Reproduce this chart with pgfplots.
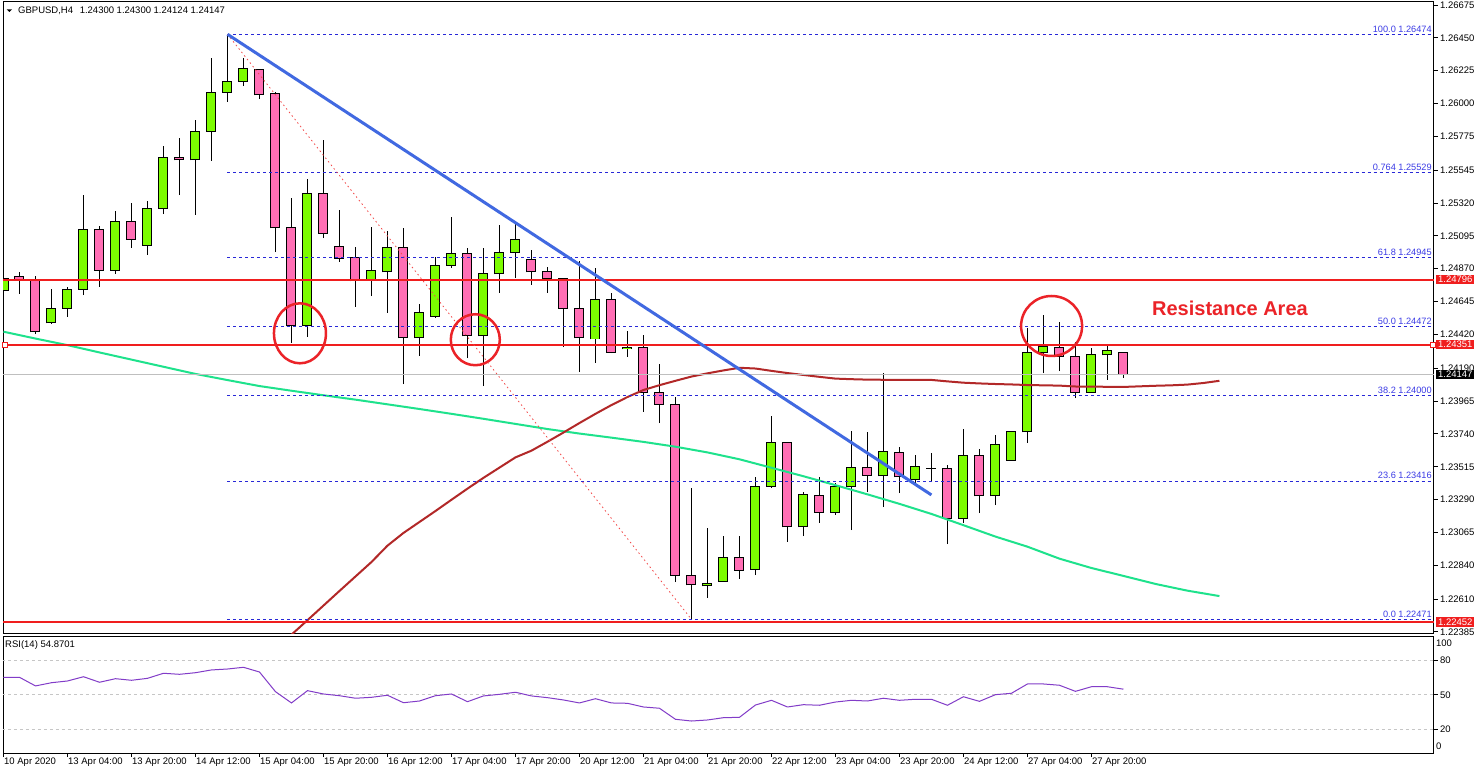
\documentclass[border=0pt]{standalone}
\usepackage{pgfplots}
\pgfplotsset{compat=1.18}
\usepackage{pgfplotstable}
\usepackage{fontspec}
\setmainfont{Liberation Sans}
\newcommand{\tf}{\fontsize{9.5}{11}\selectfont}
\newcommand{\ff}{\fontsize{9.2}{11}\selectfont}
\definecolor{candleup}{RGB}{124,252,0}
\definecolor{candledn}{RGB}{255,110,180}
\definecolor{maA}{RGB}{178,40,40}
\definecolor{maB}{RGB}{30,226,140}
\definecolor{trend}{RGB}{65,105,225}
\definecolor{fib}{RGB}{40,40,215}
\definecolor{fibtxt}{RGB}{60,60,230}
\definecolor{lvl}{RGB}{240,30,30}
\definecolor{rsic}{RGB}{130,60,200}
\definecolor{circ}{RGB}{235,35,40}

\pgfplotstableread{
k o h l c
0 1.24718 1.24868 1.24711 1.24806
3 1.24499 1.24731 1.24492 1.24601
4 1.24601 1.24745 1.24540 1.24731
5 1.24731 1.25374 1.24690 1.25135
7 1.24861 1.25265 1.24834 1.25190
9 1.25032 1.25333 1.24964 1.25285
10 1.25285 1.25710 1.25244 1.25634
12 1.25614 1.25888 1.25238 1.25812
13 1.25812 1.26312 1.25607 1.26079
14 1.26079 1.26474 1.26011 1.26154
15 1.26154 1.26312 1.26120 1.26237
19 1.24478 1.25484 1.24403 1.25388
23 1.24793 1.25155 1.24683 1.24861
24 1.24848 1.25128 1.24567 1.25012
26 1.24396 1.24629 1.24273 1.24567
27 1.24546 1.24950 1.24533 1.24895
28 1.24895 1.25224 1.24875 1.24971
30 1.24410 1.25012 1.24067 1.24834
31 1.24834 1.25169 1.24704 1.24984
32 1.24984 1.25176 1.24806 1.25073
37 1.24389 1.24875 1.24225 1.24656
39 1.24321 1.24444 1.24266 1.24334
44 1.22699 1.23096 1.22617 1.22719
45 1.22733 1.23041 1.22733 1.22891
47 1.22815 1.23445 1.22774 1.23383
48 1.23383 1.23862 1.23370 1.23684
50 1.23103 1.23342 1.23041 1.23328
52 1.23205 1.23404 1.23185 1.23383
53 1.23383 1.23760 1.23082 1.23513
55 1.23452 1.24156 1.23239 1.23616
57 1.23431 1.23595 1.23404 1.23520
58 1.23506 1.23609 1.23417 1.23506
60 1.23164 1.23773 1.23130 1.23595
62 1.23315 1.23732 1.23253 1.23664
63 1.23561 1.23760 1.23561 1.23753
64 1.23753 1.24464 1.23678 1.24300
65 1.24300 1.24553 1.24156 1.24341
68 1.24026 1.24327 1.24026 1.24280
69 1.24280 1.24348 1.24109 1.24307
}\upc

\pgfplotstableread{
k o h l c
1 1.24820 1.24848 1.24697 1.24793
2 1.24793 1.24820 1.24423 1.24437
6 1.25135 1.25162 1.24745 1.24861
8 1.25190 1.25320 1.25012 1.25073
11 1.25628 1.25764 1.25374 1.25614
16 1.26230 1.26230 1.26031 1.26059
17 1.26066 1.26079 1.24984 1.25149
18 1.25149 1.25354 1.24362 1.24478
20 1.25388 1.25751 1.25080 1.25114
21 1.25025 1.25272 1.24916 1.24943
22 1.24950 1.25019 1.24608 1.24786
25 1.25012 1.25149 1.24081 1.24396
29 1.24971 1.25012 1.24259 1.24410
33 1.24930 1.24998 1.24759 1.24848
34 1.24848 1.24882 1.24704 1.24800
35 1.24800 1.24800 1.24334 1.24601
36 1.24601 1.24923 1.24163 1.24396
38 1.24656 1.24704 1.24293 1.24300
40 1.24334 1.24416 1.23890 1.24026
41 1.24026 1.24218 1.23814 1.23944
42 1.23944 1.23992 1.22726 1.22774
43 1.22774 1.23370 1.22471 1.22706
46 1.22891 1.23041 1.22747 1.22808
49 1.23684 1.23684 1.23000 1.23103
51 1.23315 1.23445 1.23130 1.23205
54 1.23513 1.23753 1.23342 1.23458
56 1.23609 1.23650 1.23335 1.23445
59 1.23506 1.23527 1.22986 1.23164
61 1.23595 1.23636 1.23198 1.23315
66 1.24334 1.24505 1.24170 1.24266
67 1.24266 1.24369 1.23985 1.24026
70 1.24300 1.24300 1.24124 1.24147
}\dnc

\pgfplotstableread{
k v
17 1.22268
18 1.22366
19 1.22465
20 1.22565
21 1.22665
22 1.22764
23 1.22863
24 1.22975
25 1.23062
26 1.23137
27 1.23212
28 1.23289
29 1.23365
30 1.23439
31 1.23509
32 1.23579
33 1.23625
34 1.23686
35 1.23749
36 1.23814
37 1.23877
38 1.23937
39 1.23992
40 1.24040
41 1.24073
42 1.24103
43 1.24132
44 1.24154
45 1.24174
46 1.24192
47 1.24187
48 1.24171
49 1.24156
50 1.24143
51 1.24130
52 1.24118
53 1.24114
54 1.24111
55 1.24110
56 1.24109
57 1.24109
58 1.24109
59 1.24099
60 1.24090
61 1.24085
62 1.24081
63 1.24078
64 1.24074
65 1.24072
66 1.24070
67 1.24064
68 1.24063
69 1.24062
70 1.24061
71 1.24065
72 1.24069
73 1.24072
74 1.24077
75 1.24088
76 1.24103
}\maslow

\pgfplotstableread{
k v
0 1.24439
2 1.24392
4 1.24347
6 1.24297
8 1.24248
10 1.24199
12 1.24150
14 1.24108
16 1.24067
18 1.24035
20 1.24004
22 1.23974
24 1.23942
26 1.23910
28 1.23877
30 1.23843
32 1.23808
34 1.23773
36 1.23742
38 1.23714
40 1.23685
42 1.23652
44 1.23613
46 1.23566
48 1.23508
50 1.23450
52 1.23389
54 1.23326
56 1.23261
58 1.23192
60 1.23115
62 1.23037
64 1.22968
66 1.22886
68 1.22822
70 1.22768
72 1.22713
74 1.22667
76 1.22630
}\mafast

\pgfplotstableread{
k v
0 65.2
1 65.2
2 57.7
3 60.5
4 62.0
5 65.7
6 60.9
7 64.0
8 62.6
9 64.3
10 68.7
11 67.8
12 69.2
13 71.6
14 72.4
15 73.9
16 69.8
17 52.7
18 42.9
19 53.6
20 50.7
21 49.2
22 47.0
23 47.8
24 49.6
25 43.1
26 44.6
27 49.2
28 50.7
29 44.0
30 49.0
31 50.4
32 52.2
33 49.0
34 47.5
35 45.5
36 42.9
37 46.6
38 42.9
39 42.6
40 39.4
41 38.3
42 28.7
43 27.2
44 28.1
45 30.1
46 30.4
47 41.1
48 45.2
49 39.4
50 41.4
51 40.9
52 43.7
53 45.2
54 44.6
55 47.0
56 45.2
57 46.1
58 46.1
59 40.9
60 48.3
61 44.3
62 50.1
63 51.3
64 59.4
65 59.4
66 58.3
67 53.0
68 57.0
69 57.0
70 54.87
}\rsidata

\begin{document}
\begin{tikzpicture}
\useasboundingbox[fill=white] (0,0) rectangle (1480pt,774pt);
% ---------------- main price panel ----------------
\begin{axis}[
  at={(3pt,141pt)}, anchor=south west, scale only axis,
  width=1431pt, height=631pt,
  xmin=-0.03125, xmax=89.40625, ymin=1.223773, ymax=1.26695,
  clip mode=individual,
  axis line style={black, line width=1pt},
  xtick=\empty,
  ytick={1.22385,1.22610,1.22840,1.23065,1.23290,1.23515,1.23740,1.23965,1.24190,1.24420,1.24645,1.24870,1.25095,1.25320,1.25545,1.25775,1.26000,1.26225,1.26450,1.26675},
  yticklabels={1.22385,1.22610,1.22840,1.23065,1.23290,1.23515,1.23740,1.23965,1.24190,1.24420,1.24645,1.24870,1.25095,1.25320,1.25545,1.25775,1.26000,1.26225,1.26450,1.26675},
  ytick pos=right, yticklabel pos=right,
  tick align=outside, major tick length=4pt,
  every tick/.style={black, line width=0.8pt},
  yticklabel style={font=\tf, anchor=west, inner sep=0pt, xshift=2pt},
]
% wicks
\addplot[draw=none, no markers, error bars/.cd, y dir=plus, y explicit, error mark=none,
  error bar style={draw=black, solid, line width=1pt}]
  table[x=k, y=l, y error expr=\thisrow{h}-\thisrow{l}] {\upc};
\addplot[draw=none, no markers, error bars/.cd, y dir=plus, y explicit, error mark=none,
  error bar style={draw=black, solid, line width=1pt}]
  table[x=k, y=l, y error expr=\thisrow{h}-\thisrow{l}] {\dnc};
% bodies: black outline layer
\addplot[draw=none, no markers, error bars/.cd, y dir=plus, y explicit, error mark=none,
  error bar style={draw=black, solid, line width=10pt}]
  table[x=k, y expr=\thisrow{o}-0.0000342, y error expr=\thisrow{c}-\thisrow{o}+0.0000684] {\upc};
\addplot[draw=none, no markers, error bars/.cd, y dir=plus, y explicit, error mark=none,
  error bar style={draw=black, solid, line width=10pt}]
  table[x=k, y expr=\thisrow{c}-0.0000342, y error expr=\thisrow{o}-\thisrow{c}+0.0000684] {\dnc};
% bodies: fill layer
\addplot[draw=none, no markers, error bars/.cd, y dir=plus, y explicit, error mark=none,
  error bar style={draw=candleup, solid, line width=8pt}]
  table[x=k, y expr=\thisrow{o}+0.0000342, y error expr={max(\thisrow{c}-\thisrow{o}-0.0000684,0)}] {\upc};
\addplot[draw=none, no markers, error bars/.cd, y dir=plus, y explicit, error mark=none,
  error bar style={draw=candledn, solid, line width=8pt}]
  table[x=k, y expr=\thisrow{c}+0.0000342, y error expr={max(\thisrow{o}-\thisrow{c}-0.0000684,0)}] {\dnc};
% moving averages
\addplot[maB, line width=2pt, mark=none] table[x=k, y=v] {\mafast};
\addplot[maA, line width=2pt, mark=none] table[x=k, y=v] {\maslow};
% horizontal levels
\addplot[gray!50, line width=0.8pt, mark=none] coordinates {(-0.1,1.24147) (89.5,1.24147)};
\addplot[lvl, line width=2pt, mark=none] coordinates {(-0.1,1.24796) (89.5,1.24796)};
\addplot[lvl, line width=2pt, mark=none] coordinates {(-0.1,1.24351) (89.5,1.24351)};
\addplot[lvl, line width=2pt, mark=none] coordinates {(-0.1,1.22452) (89.5,1.22452)};
% fibonacci levels
\addplot[fib, line width=0.9pt, dash pattern=on 3pt off 3pt, mark=none] coordinates {(14,1.26474) (89.5,1.26474)};
\addplot[fib, line width=0.9pt, dash pattern=on 3pt off 3pt, mark=none] coordinates {(14,1.25529) (89.5,1.25529)};
\addplot[fib, line width=0.9pt, dash pattern=on 3pt off 3pt, mark=none] coordinates {(14,1.24945) (89.5,1.24945)};
\addplot[fib, line width=0.9pt, dash pattern=on 3pt off 3pt, mark=none] coordinates {(14,1.24472) (89.5,1.24472)};
\addplot[fib, line width=0.9pt, dash pattern=on 3pt off 3pt, mark=none] coordinates {(14,1.24000) (89.5,1.24000)};
\addplot[fib, line width=0.9pt, dash pattern=on 3pt off 3pt, mark=none] coordinates {(14,1.23416) (89.5,1.23416)};
\addplot[fib, line width=0.9pt, dash pattern=on 3pt off 3pt, mark=none] coordinates {(14,1.22471) (89.5,1.22471)};
\addplot[lvl!80, line width=0.8pt, dash pattern=on 1.5pt off 3pt, mark=none] coordinates {(14,1.26474) (43,1.22471)};
% trend line
\addplot[trend, line width=3pt, mark=none] coordinates {(14,1.26474) (58,1.23322)};
% fib labels
\node[anchor=south east, inner sep=0pt, font=\ff, text=fibtxt] at ([xshift=-2pt, yshift=2pt]axis cs:89.40625,1.26474) {100.0 1.26474};
\node[anchor=south east, inner sep=0pt, font=\ff, text=fibtxt] at ([xshift=-2pt, yshift=2pt]axis cs:89.40625,1.25529) {0.764 1.25529};
\node[anchor=south east, inner sep=0pt, font=\ff, text=fibtxt] at ([xshift=-2pt, yshift=2pt]axis cs:89.40625,1.24945) {61.8 1.24945};
\node[anchor=south east, inner sep=0pt, font=\ff, text=fibtxt] at ([xshift=-2pt, yshift=2pt]axis cs:89.40625,1.24472) {50.0 1.24472};
\node[anchor=south east, inner sep=0pt, font=\ff, text=fibtxt] at ([xshift=-2pt, yshift=2pt]axis cs:89.40625,1.24000) {38.2 1.24000};
\node[anchor=south east, inner sep=0pt, font=\ff, text=fibtxt] at ([xshift=-2pt, yshift=2pt]axis cs:89.40625,1.23416) {23.6 1.23416};
\node[anchor=south east, inner sep=0pt, font=\ff, text=fibtxt] at ([xshift=-2pt, yshift=2pt]axis cs:89.40625,1.22471) {0.0 1.22471};
% circles
\draw[circ, line width=2.5pt] (axis cs:18.53,1.24428) ellipse [x radius=26pt, y radius=30pt];
\draw[circ, line width=2.5pt] (axis cs:29.49,1.24384) ellipse [x radius=24.5pt, y radius=25.5pt];
\draw[circ, line width=2.5pt] (axis cs:65.51,1.24478) ellipse [x radius=30.5pt, y radius=30pt];
\node[text=circ, font=\fontsize{20}{24}\selectfont\bfseries] at (axis cs:76.66,1.24598) {Resistance Area};
% end markers of the selected line
\node[draw=lvl, fill=white, line width=1pt, minimum size=5pt, inner sep=0pt] at (axis cs:0.1,1.24351) {};
\node[draw=lvl, fill=white, line width=1pt, minimum size=5pt, inner sep=0pt] at ([xshift=-1pt]axis cs:89.40625,1.24351) {};
% price boxes
\node[fill=lvl, text=white, font=\tf, anchor=west, inner xsep=2pt, inner ysep=1.5pt] at ([xshift=2pt]axis cs:89.40625,1.24796) {1.24796};
\node[fill=lvl, text=white, font=\tf, anchor=west, inner xsep=2pt, inner ysep=1.5pt] at ([xshift=2pt]axis cs:89.40625,1.24351) {1.24351};
\node[fill=black, text=white, font=\tf, anchor=west, inner xsep=2pt, inner ysep=1.5pt] at ([xshift=2pt]axis cs:89.40625,1.24147) {1.24147};
\node[fill=lvl, text=white, font=\tf, anchor=west, inner xsep=2pt, inner ysep=1.5pt] at ([xshift=2pt]axis cs:89.40625,1.22452) {1.22452};
% header
\fill (axis description cs:0.0026,0.9884) -- (axis description cs:0.0063,0.9884) -- (axis description cs:0.00445,0.9842) -- cycle;
\node[anchor=west, inner sep=0pt, font=\tf] at (axis description cs:0.0105,0.9857) {GBPUSD,H4\hspace{0.7em}1.24300 1.24300 1.24124 1.24147};
\end{axis}
% ---------------- RSI panel ----------------
\begin{axis}[
  at={(3pt,21pt)}, anchor=south west, scale only axis,
  width=1431pt, height=117pt,
  xmin=-0.03125, xmax=89.40625, ymin=-0.6, ymax=101.1,
  clip mode=individual,
  axis line style={black, line width=1pt},
  xtick={0,4,...,68},
  xticklabels={10 Apr 2020,13 Apr 04:00,13 Apr 20:00,14 Apr 12:00,15 Apr 04:00,15 Apr 20:00,16 Apr 12:00,17 Apr 04:00,17 Apr 20:00,20 Apr 12:00,21 Apr 04:00,21 Apr 20:00,22 Apr 12:00,23 Apr 04:00,23 Apr 20:00,24 Apr 12:00,27 Apr 04:00,27 Apr 20:00},
  xtick pos=bottom,
  ytick={20,50,80}, yticklabels={20,50,80},
  extra y ticks={5.5,95}, extra y tick labels={0,100},
  extra y tick style={major tick length=0pt},
  ytick pos=right, yticklabel pos=right,
  tick align=outside, major tick length=4pt,
  every tick/.style={black, line width=0.8pt},
  xticklabel style={font=\tf, anchor=north west, inner sep=0pt, xshift=0.5pt, yshift=-1pt},
  yticklabel style={font=\tf, anchor=west, inner sep=0pt, xshift=2pt},
]
\addplot[gray!45, line width=0.8pt, dash pattern=on 3pt off 3pt, mark=none] coordinates {(-0.1,80) (89.5,80)};
\addplot[gray!45, line width=0.8pt, dash pattern=on 3pt off 3pt, mark=none] coordinates {(-0.1,50) (89.5,50)};
\addplot[gray!45, line width=0.8pt, dash pattern=on 3pt off 3pt, mark=none] coordinates {(-0.1,20) (89.5,20)};
\addplot[rsic, line width=1pt, mark=none] table[x=k, y=v] {\rsidata};
\node[anchor=west, inner sep=0pt, font=\tf] at (axis description cs:0.0014,0.923) {RSI(14) 54.8701};
\end{axis}
\end{tikzpicture}
\end{document}
